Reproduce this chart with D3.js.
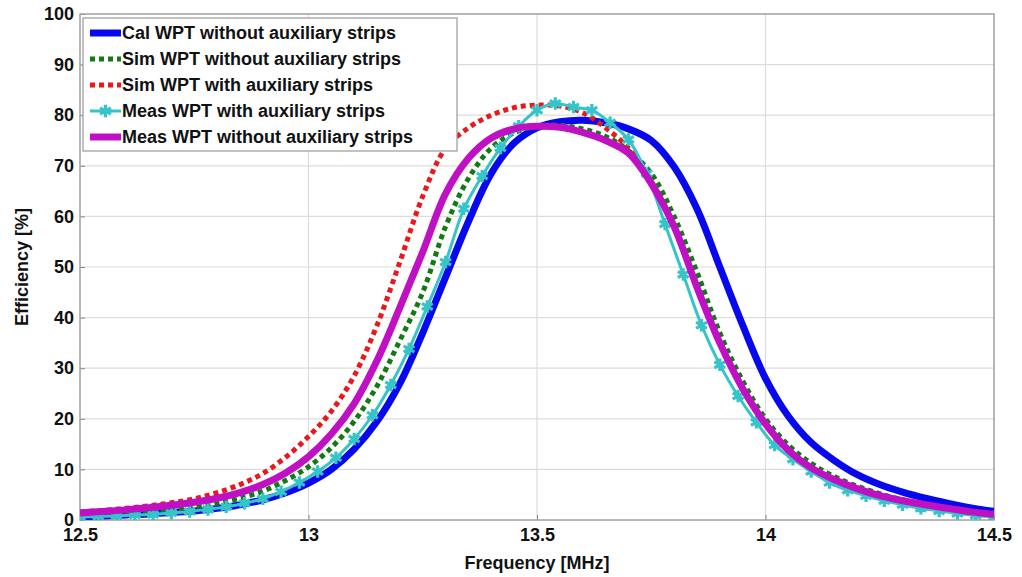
<!DOCTYPE html>
<html>
<head>
<meta charset="utf-8">
<script src="https://cdn.jsdelivr.net/npm/d3@7"></script>
<style>
  body { margin: 0; background: #fff; }
  text { font-family: "Liberation Sans", Arial, sans-serif; font-weight: bold; fill: #111; }
</style>
</head>
<body>
<svg id="chart" width="1022" height="577"></svg>
<script>
// frequency grid [MHz] for calculated / simulated / magenta curves
var freq = [12.5, 12.55, 12.6, 12.65, 12.7, 12.75, 12.8, 12.85, 12.9, 12.95,
            13.0, 13.05, 13.1, 13.15, 13.2, 13.25, 13.3, 13.35, 13.4, 13.45,
            13.5, 13.55, 13.6, 13.65, 13.7, 13.75, 13.8, 13.85, 13.9, 13.95,
            14.0, 14.05, 14.1, 14.15, 14.2, 14.25, 14.3, 14.35, 14.4, 14.45, 14.5];

// measured points with auxiliary strips (marker spacing)
var measFreq = [12.50, 12.54, 12.58, 12.62, 12.66, 12.70, 12.74, 12.78, 12.82, 12.86,
                12.90, 12.94, 12.98, 13.02, 13.06, 13.10, 13.14, 13.18, 13.22, 13.26,
                13.30, 13.34, 13.38, 13.42, 13.46, 13.50, 13.54, 13.58, 13.62, 13.66,
                13.70, 13.74, 13.78, 13.82, 13.86, 13.90, 13.94, 13.98, 14.02, 14.06,
                14.10, 14.14, 14.18, 14.22, 14.26, 14.30, 14.34, 14.38, 14.42, 14.46, 14.50];

var calWithout = [0.7, 0.8, 1.0, 1.2, 1.5, 1.8, 2.3, 3.0, 4.0, 5.4,
                  7.3, 10, 14, 19.5, 27, 37, 48, 59, 68.5, 74.5,
                  77.5, 78.7, 79, 78.5, 77.3, 75, 69.8, 61.5, 50, 38.5,
                  28, 20.5, 15.3, 11.8, 9.0, 7.0, 5.5, 4.3, 3.3, 2.4, 1.7];

var simWithout = [1.0, 1.2, 1.4, 1.7, 2.1, 2.6, 3.3, 4.3, 5.7, 7.8,
                  10.5, 14.3, 19.5, 26.5, 35.5, 45, 58, 67.5, 73.5, 76.5,
                  77.8, 78, 77.3, 75.8, 73, 68.5, 60, 49, 37, 27.5,
                  20, 14.8, 11.2, 8.6, 6.7, 5.2, 4.0, 3.1, 2.4, 1.8, 1.3];

var simWith = [1.6, 1.9, 2.3, 2.8, 3.4, 4.2, 5.4, 7.0, 9.2, 12.4,
               16.5, 21.5, 28.5, 38.5, 51, 64, 73.5, 77.5, 80, 81.5,
               82, 81.8, 80.5, 77.5, 73.5, 67, 58, 46, 35, 26,
               19, 14, 10.3, 7.9, 6.1, 4.7, 3.7, 2.9, 2.2, 1.6, 1.2];

var measWith = [0.6, 0.7, 0.8, 1.0, 1.1, 1.4, 1.7, 2.1, 2.6, 3.3,
                4.2, 5.6, 7.4, 9.6, 12.3, 16, 20.7, 26.7, 33.8, 42.2,
                51, 61.5, 68, 73.5, 77.8, 81, 82.3, 81.6, 81, 78.5,
                75.2, 68.5, 58.5, 48.5, 38.5, 30.7, 24.5, 19.3, 14.8, 12,
                9.6, 7.4, 5.9, 4.8, 3.8, 3.0, 2.3, 1.8, 1.3, 0.9, 0.6];

var measWithout = [1.4, 1.7, 2.0, 2.4, 2.9, 3.5, 4.3, 5.4, 7.0, 9.3,
                   12.5, 17, 23, 31.5, 42, 53, 64.5, 71.5, 75.5, 77.3,
                   77.8, 77.6, 76.6, 75, 72.5, 66.5, 58, 46, 35, 26,
                   19, 13.8, 10.3, 8.0, 6.2, 4.8, 3.8, 3.0, 2.3, 1.6, 1.1];

var xTicks = [12.5, 13, 13.5, 14, 14.5];
var yTicks = [0, 10, 20, 30, 40, 50, 60, 70, 80, 90, 100];

var seriesNames = ["Cal WPT without auxiliary strips",
                   "Sim WPT without auxiliary strips",
                   "Sim WPT with auxiliary strips",
                   "Meas WPT with auxiliary strips",
                   "Meas WPT without auxiliary strips"];

var series = [
  { name: seriesNames[0], f: freq,     values: calWithout,  color: "#0808ee", width: 7, dash: null },
  { name: seriesNames[1], f: freq,     values: simWithout,  color: "#137a13", width: 5, dash: "5,4" },
  { name: seriesNames[2], f: freq,     values: simWith,     color: "#e8181c", width: 5, dash: "5,4" },
  { name: seriesNames[3], f: measFreq, values: measWith,    color: "#35c4c8", width: 3, dash: null, marker: true },
  { name: seriesNames[4], f: freq,     values: measWithout, color: "#c010c4", width: 7, dash: null }
];

var svg = d3.select("#chart");
var plotL = 80, plotR = 994, plotT = 14, plotB = 520;

var x = d3.scaleLinear().domain([12.5, 14.5]).range([plotL, plotR]);
var y = d3.scaleLinear().domain([0, 100]).range([plotB, plotT]);

// grid
svg.append("g").selectAll("line").data(yTicks.slice(1, -1)).enter()
  .append("line")
  .attr("x1", plotL).attr("x2", plotR)
  .attr("y1", function(d) { return y(d); }).attr("y2", function(d) { return y(d); })
  .style("stroke", "#dcdcdc").style("stroke-width", 1.2);
svg.append("g").selectAll("line").data(xTicks.slice(1, -1)).enter()
  .append("line")
  .attr("y1", plotT).attr("y2", plotB)
  .attr("x1", function(d) { return x(d); }).attr("x2", function(d) { return x(d); })
  .style("stroke", "#dcdcdc").style("stroke-width", 1.2);

// axes
var xAxis = d3.axisBottom(x).tickValues(xTicks).tickSize(-5).tickPadding(11)
  .tickFormat(function(d) { return d3.format("")(d); });
var yAxis = d3.axisLeft(y).tickValues(yTicks).tickSize(-5).tickPadding(6);

svg.append("g").attr("transform", "translate(0," + plotB + ")").call(xAxis)
  .call(function(g) {
    g.select(".domain").remove();
    g.selectAll("line").style("stroke", "#888");
    g.selectAll("text").style("font-size", "18px").attr("dy", "0.55em");
  });
svg.append("g").attr("transform", "translate(" + plotL + ",0)").call(yAxis)
  .call(function(g) {
    g.select(".domain").remove();
    g.selectAll("line").style("stroke", "#888");
    g.selectAll("text").style("font-size", "18px");
  });

// box
svg.append("rect")
  .attr("x", plotL).attr("y", plotT)
  .attr("width", plotR - plotL).attr("height", plotB - plotT)
  .style("fill", "none").style("stroke", "#a0a0a0").style("stroke-width", 1.5);

// curves
svg.append("clipPath").attr("id", "plotclip")
  .append("rect").attr("x", plotL).attr("y", plotT - 5)
  .attr("width", plotR - plotL).attr("height", plotB - plotT + 5);

var plot = svg.append("g").attr("clip-path", "url(#plotclip)");

var star = d3.symbol().type(d3.symbolAsterisk).size(110);

series.forEach(function(s) {
  var line = d3.line()
    .x(function(d, i) { return x(s.f[i]); })
    .y(function(d) { return y(d); })
    .curve(d3.curveCatmullRom);

  plot.append("path")
    .datum(s.values)
    .attr("d", line)
    .style("fill", "none")
    .style("stroke", s.color)
    .style("stroke-width", s.width)
    .style("stroke-dasharray", s.dash)
    .style("stroke-linejoin", "round");
  if (s.marker) {
    plot.append("g").selectAll("path").data(s.values).enter()
      .append("path")
      .attr("d", star)
      .attr("transform", function(d, i) { return "translate(" + x(s.f[i]) + "," + y(d) + ")"; })
      .style("fill", "none")
      .style("stroke", s.color)
      .style("stroke-width", 3.2);
  }
});

// axis titles
svg.append("text")
  .attr("x", (plotL + plotR) / 2).attr("y", 569)
  .attr("text-anchor", "middle")
  .style("font-size", "18px")
  .text("Frequency [MHz]");
svg.append("text")
  .attr("transform", "translate(28," + (plotT + plotB) / 2 + ") rotate(-90)")
  .attr("text-anchor", "middle")
  .style("font-size", "18px")
  .text("Efficiency [%]");

// legend
var legend = svg.append("g");
legend.append("rect")
  .attr("x", 83).attr("y", 18).attr("width", 374).attr("height", 133)
  .style("fill", "#fff").style("stroke", "#999").style("stroke-width", 1.2);

var rowY = d3.scaleLinear().domain([0, 4]).range([33, 137]);
series.forEach(function(s, i) {
  var ly = rowY(i);
  legend.append("line")
    .attr("x1", 90).attr("x2", 121).attr("y1", ly).attr("y2", ly)
    .style("stroke", s.color)
    .style("stroke-width", s.width)
    .style("stroke-dasharray", s.dash);
  if (s.marker) {
    legend.append("path").attr("d", star)
      .attr("transform", "translate(105.5," + ly + ")")
      .style("fill", "none").style("stroke", s.color).style("stroke-width", 3.2);
  }
  legend.append("text")
    .attr("x", 122).attr("y", ly).attr("dy", "0.36em")
    .style("font-size", "18px")
    .text(s.name);
});
</script>
</body>
</html>
